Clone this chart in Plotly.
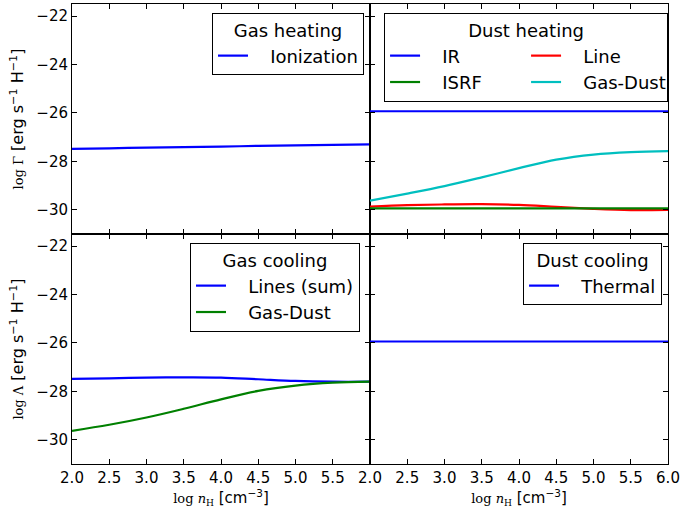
import plotly.graph_objects as go

# ---------------- data ----------------
x_nh = [2.0, 2.5, 3.0, 3.5, 4.0, 4.5, 5.0, 5.5, 6.0]

gas_heat_ionization = [-27.48, -27.46, -27.43, -27.41, -27.39, -27.36, -27.34, -27.32, -27.30]

dust_heat_ir = [-25.93, -25.93, -25.93, -25.93, -25.93, -25.93, -25.93, -25.93, -25.93]
dust_heat_isrf = [-29.94, -29.94, -29.94, -29.94, -29.94, -29.94, -29.94, -29.94, -29.94]
dust_heat_line = [-29.87, -29.81, -29.78, -29.77, -29.80, -29.88, -29.96, -30.01, -30.00]
dust_heat_gasdust = [-29.62, -29.33, -29.02, -28.66, -28.28, -27.93, -27.72, -27.62, -27.58]

gas_cool_lines = [-27.48, -27.46, -27.43, -27.42, -27.43, -27.50, -27.57, -27.60, -27.60]
gas_cool_gasdust = [-29.63, -29.38, -29.08, -28.72, -28.33, -27.98, -27.76, -27.64, -27.60]

dust_cool_thermal = [-25.94, -25.94, -25.94, -25.94, -25.94, -25.94, -25.94, -25.94, -25.94]

x_ticks_left = [2.0, 2.5, 3.0, 3.5, 4.0, 4.5, 5.0, 5.5]
x_ticks_right = [2.0, 2.5, 3.0, 3.5, 4.0, 4.5, 5.0, 5.5, 6.0]
y_ticks = [-30, -28, -26, -24, -22]

BLUE = "#0000ff"
GREEN = "#008000"
RED = "#ff0000"
CYAN = "#00bfbf"
SP = "\u00a0\u00a0\u00a0"

fig = go.Figure()


def add(y, name, color, xa, ya, legend):
    fig.add_trace(go.Scatter(
        x=x_nh, y=y, name=SP + name, mode="lines", line=dict(color=color, width=2.2, shape="spline"),
        xaxis=xa, yaxis=ya, legend=legend, showlegend=True))


add(gas_heat_ionization, "Ionization", BLUE, "x", "y", "legend")

add(dust_heat_ir, "IR", BLUE, "x2", "y2", "legend2")
add(dust_heat_line, "Line", RED, "x2", "y2", "legend2")
add(dust_heat_isrf, "ISRF", GREEN, "x2", "y2", "legend2")
add(dust_heat_gasdust, "Gas-Dust", CYAN, "x2", "y2", "legend2")

add(gas_cool_lines, "Lines (sum)", BLUE, "x3", "y3", "legend3")
add(gas_cool_gasdust, "Gas-Dust", GREEN, "x3", "y3", "legend3")

add(dust_cool_thermal, "Thermal", BLUE, "x4", "y4", "legend4")

axis_common = dict(showline=True, linecolor="black", linewidth=1, mirror="ticks", ticks="inside",
                   ticklen=5, tickwidth=1, tickcolor="black", showgrid=False, zeroline=False,
                   tickfont=dict(size=15, color="black"))

y_title_serif = "<span style='font-family:DejaVu Serif;font-size:13px'>log %s</span> [erg s<sup>\u22121</sup> H<sup>\u22121</sup>]"
x_title = "<span style='font-family:DejaVu Serif;font-size:13px'>log <i>n</i><sub>H</sub></span> [cm<sup>\u22123</sup>]"

fig.update_layout(
    xaxis=dict(domain=[0, 0.5], range=[2, 6], anchor="y", tickvals=x_ticks_left, showticklabels=False, **axis_common),
    yaxis=dict(domain=[0.5, 1], range=[-31, -21.5], anchor="x", tickvals=y_ticks,
               title=dict(text=y_title_serif % "\u0393", font=dict(size=16), standoff=8), **axis_common),
    xaxis2=dict(domain=[0.5, 1], range=[2, 6], anchor="y2", tickvals=x_ticks_right, showticklabels=False, **axis_common),
    yaxis2=dict(domain=[0.5, 1], range=[-31, -21.5], anchor="x2", tickvals=y_ticks, showticklabels=False, **axis_common),
    xaxis3=dict(domain=[0, 0.5], range=[2, 6], anchor="y3", tickvals=x_ticks_left, tickformat=".1f",
                title=dict(text=x_title, font=dict(size=15), standoff=6), **axis_common),
    yaxis3=dict(domain=[0, 0.5], range=[-31, -21.5], anchor="x3", tickvals=y_ticks,
                title=dict(text=y_title_serif % "\u039b", font=dict(size=16), standoff=8), **axis_common),
    xaxis4=dict(domain=[0.5, 1], range=[2, 6], anchor="y4", tickvals=x_ticks_right, tickformat=".1f",
                title=dict(text=x_title, font=dict(size=15), standoff=6), **axis_common),
    yaxis4=dict(domain=[0, 0.5], range=[-31, -21.5], anchor="x4", tickvals=y_ticks, showticklabels=False, **axis_common),
)

legend_common = dict(bordercolor="black", borderwidth=1, bgcolor="white", font=dict(size=18, color="black"),
                     yanchor="top", xanchor="right")

fig.update_layout(
    legend=dict(x=0.4899, y=0.9804, title=dict(text="Gas heating", side="top center", font=dict(size=18)), **legend_common),
    legend2=dict(x=1.0001, y=0.9804, orientation="h", entrywidth=96,
                 title=dict(text="Dust heating", side="top center", font=dict(size=18)), **legend_common),
    legend3=dict(x=0.4832, y=0.4804, title=dict(text="Gas cooling", side="top center", font=dict(size=18)), **legend_common),
    legend4=dict(x=0.99, y=0.4804, title=dict(text="Dust cooling", side="top center", font=dict(size=18)), **legend_common),
)

fig.update_layout(
    width=681, height=517,
    margin=dict(l=72, r=13, t=4, b=53, autoexpand=False),
    paper_bgcolor="white", plot_bgcolor="white",
    font=dict(family="DejaVu Sans", size=15, color="black"),
)

fig.write_html("out.html", config={"displayModeBar": False},
               post_script="document.body.style.margin='0';")
